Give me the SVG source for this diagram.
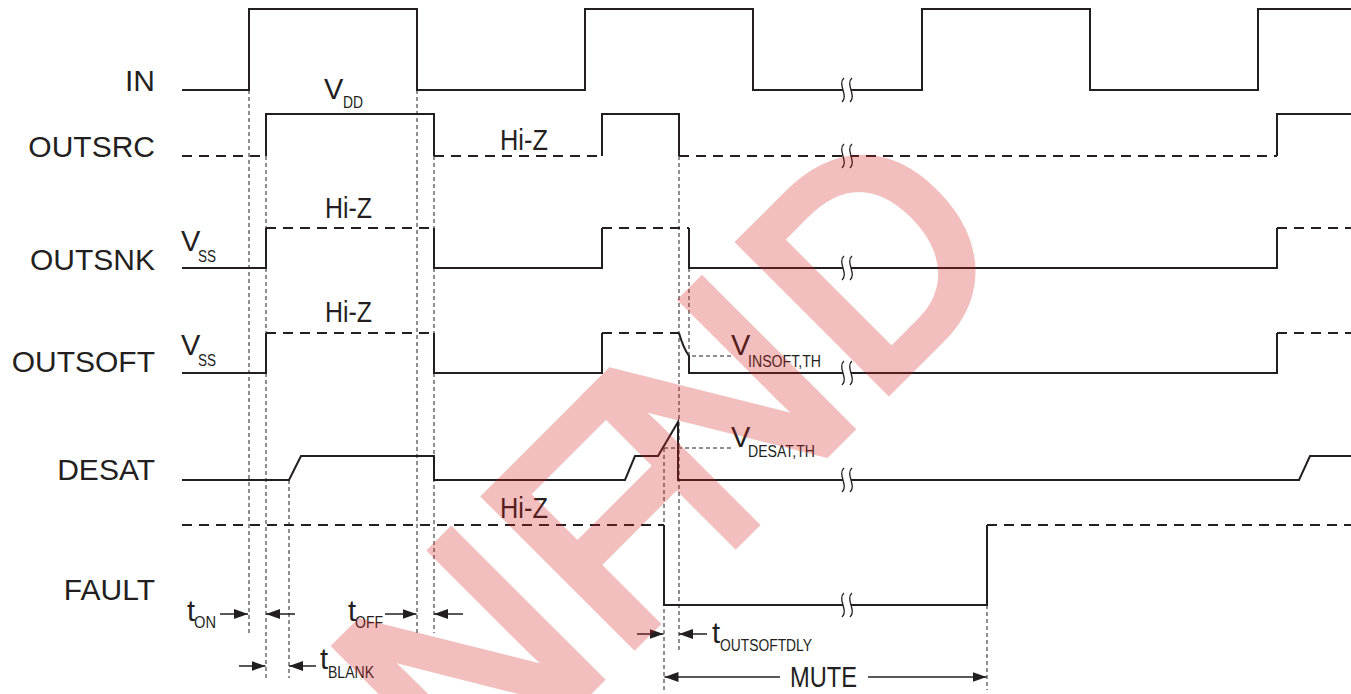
<svg xmlns="http://www.w3.org/2000/svg" xmlns:xlink="http://www.w3.org/1999/xlink" width="1351" height="694" viewBox="0 0 1351 694">
<style>
.w{fill:none;stroke:#231f20;stroke-width:2;stroke-linejoin:miter}
.d{stroke-dasharray:10 7}
.g{fill:none;stroke:#231f20;stroke-width:1;stroke-dasharray:4 3}
.a{fill:none;stroke:#231f20;stroke-width:1.5}
.lbl{font-family:"Liberation Sans",Arial,sans-serif;font-size:30px;fill:#231f20;text-anchor:end}
.t{font-family:"Liberation Sans",Arial,sans-serif;font-size:29px;fill:#231f20}
.s{font-family:"Liberation Sans",Arial,sans-serif;font-size:16px;fill:#231f20}
</style>
<defs>
<marker id="ah" markerUnits="userSpaceOnUse" markerWidth="15" markerHeight="11" refX="14" refY="5" orient="auto">
<path d="M0,0 L14,5 L0,10 Z" fill="#231f20"/>
</marker>
<g id="brk">
<path d="M-2,-12 C-9,-6 3,6 -4,12 L4,12 C11,6 -1,-6 6,-12 Z" fill="#fff"/>
<path d="M-2,-12 C-9,-6 3,6 -4,12 M6,-12 C-1,-6 11,6 4,12" fill="none" stroke="#231f20" stroke-width="1.3"/>
</g>
</defs>
<rect width="1351" height="694" fill="#fff"/>

<g id="connectors">
<path class="g" d="M249,90 V633 M266,156 V678 M289,480 V678 M417,90 V633 M434,156 V633 M679,156 V650 M689,268 V356 H731 M664,448 V690 M664,448 H731 M987,605 V690"/>
<line class="a" x1="220" y1="614" x2="248" y2="614" marker-end="url(#ah)"/>
<line class="a" x1="295" y1="614" x2="266" y2="614" marker-end="url(#ah)"/>
<line class="a" x1="385" y1="614" x2="416.5" y2="614" marker-end="url(#ah)"/>
<line class="a" x1="463" y1="614" x2="434" y2="614" marker-end="url(#ah)"/>
<line class="a" x1="239" y1="666" x2="265.5" y2="666" marker-end="url(#ah)"/>
<line class="a" x1="316" y1="666" x2="289" y2="666" marker-end="url(#ah)"/>
<line class="a" x1="637" y1="634" x2="663.5" y2="634" marker-end="url(#ah)"/>
<line class="a" x1="707" y1="634" x2="679" y2="634" marker-end="url(#ah)"/>
<line class="a" x1="780" y1="677" x2="664.5" y2="677" marker-end="url(#ah)"/>
<line class="a" x1="868" y1="677" x2="986.5" y2="677" marker-end="url(#ah)"/>
</g>

<g id="sig-in">
<text class="lbl" x="155" y="91">IN</text>
<path class="w" d="M182,90 H249 V9 H417 V90 H585 V9 H753 V90 H922 V9 H1090 V90 H1258 V9 H1351"/>
<text class="t" x="324" y="99">V</text><text class="s" x="343" y="108" textLength="20" lengthAdjust="spacingAndGlyphs">DD</text>
<use href="#brk" x="846" y="90"/>
</g>

<g id="sig-outsrc">
<text class="lbl" x="155" y="157">OUTSRC</text>
<path class="w d" d="M182,156 H266 M434,156 H602 M679,156 H1277"/>
<path class="w" d="M266,156 V114 H434 V156 M602,156 V114 H679 V156 M1277,156 V114 H1351"/>
<text class="t" x="500" y="150" textLength="48" lengthAdjust="spacingAndGlyphs">Hi-Z</text>
<use href="#brk" x="846" y="156"/>
</g>

<g id="sig-outsnk">
<text class="lbl" x="155" y="270">OUTSNK</text>
<path class="w" d="M182,268 H266 V228 M434,228 V268 H602 V228 M689,228 V268 H1277 V228"/>
<path class="w d" d="M266,228 H434 M602,228 H689 M1277,228 H1351"/>
<text class="t" x="325" y="218" textLength="47" lengthAdjust="spacingAndGlyphs">Hi-Z</text>
<text class="t" x="181" y="251">V</text><text class="s" x="198" y="262" textLength="18" lengthAdjust="spacingAndGlyphs">SS</text>
<use href="#brk" x="846" y="268"/>
</g>

<g id="sig-outsoft">
<text class="lbl" x="155" y="372">OUTSOFT</text>
<path class="w" d="M182,373 H266 V333 M434,333 V373 H602 V333 M679,333 C681,340 684,349 689,356 V373 H1277 V333"/>
<path class="w d" d="M266,333 H434 M602,333 H679 M1277,333 H1351"/>
<text class="t" x="325" y="322" textLength="47" lengthAdjust="spacingAndGlyphs">Hi-Z</text>
<text class="t" x="181" y="355">V</text><text class="s" x="198" y="366" textLength="18" lengthAdjust="spacingAndGlyphs">SS</text>
<text class="t" x="731" y="355">V</text><text class="s" x="748" y="367" textLength="73" lengthAdjust="spacingAndGlyphs">INSOFT,TH</text>
<use href="#brk" x="846" y="373"/>
</g>

<g id="sig-desat">
<text class="lbl" x="155" y="480">DESAT</text>
<path class="w" d="M182,480 H289 L301,456 H434 V480 H625 L635,456 H658 L678,422 V480 H1299 L1310,456 H1351"/>
<text class="t" x="731" y="447">V</text><text class="s" x="748" y="457" textLength="67" lengthAdjust="spacingAndGlyphs">DESAT,TH</text>
<use href="#brk" x="846" y="480"/>
</g>

<g id="sig-fault">
<text class="lbl" x="155" y="600">FAULT</text>
<path class="w d" d="M182,525 H664 M987,525 H1351"/>
<path class="w" d="M664,525 V605 H987 V525"/>
<text class="t" x="500" y="518" textLength="48" lengthAdjust="spacingAndGlyphs">Hi-Z</text>
<use href="#brk" x="846" y="605"/>
</g>

<g id="timing-labels">
<text class="t" x="187" y="621">t</text><text class="s" x="194" y="628" textLength="22" lengthAdjust="spacingAndGlyphs">ON</text>
<text class="t" x="348" y="621">t</text><text class="s" x="355" y="628" textLength="28" lengthAdjust="spacingAndGlyphs">OFF</text>
<text class="t" x="320" y="669">t</text><text class="s" x="328" y="678" textLength="46" lengthAdjust="spacingAndGlyphs">BLANK</text>
<text class="t" x="712" y="643">t</text><text class="s" x="720" y="651" textLength="92" lengthAdjust="spacingAndGlyphs">OUTSOFTDLY</text>
<text class="t" x="790" y="687" textLength="67" lengthAdjust="spacingAndGlyphs">MUTE</text>
</g>

<g id="watermark" transform="rotate(-45)" opacity="0.284">
<text transform="scale(0.95,1)" x="-253.4 -30.7 119.8 347.9" y="903" font-family="Liberation Sans, Arial, sans-serif" font-size="300" fill="#d81e1e" stroke="#d81e1e" stroke-width="12" stroke-linejoin="miter">NFND</text>
</g>
</svg>
